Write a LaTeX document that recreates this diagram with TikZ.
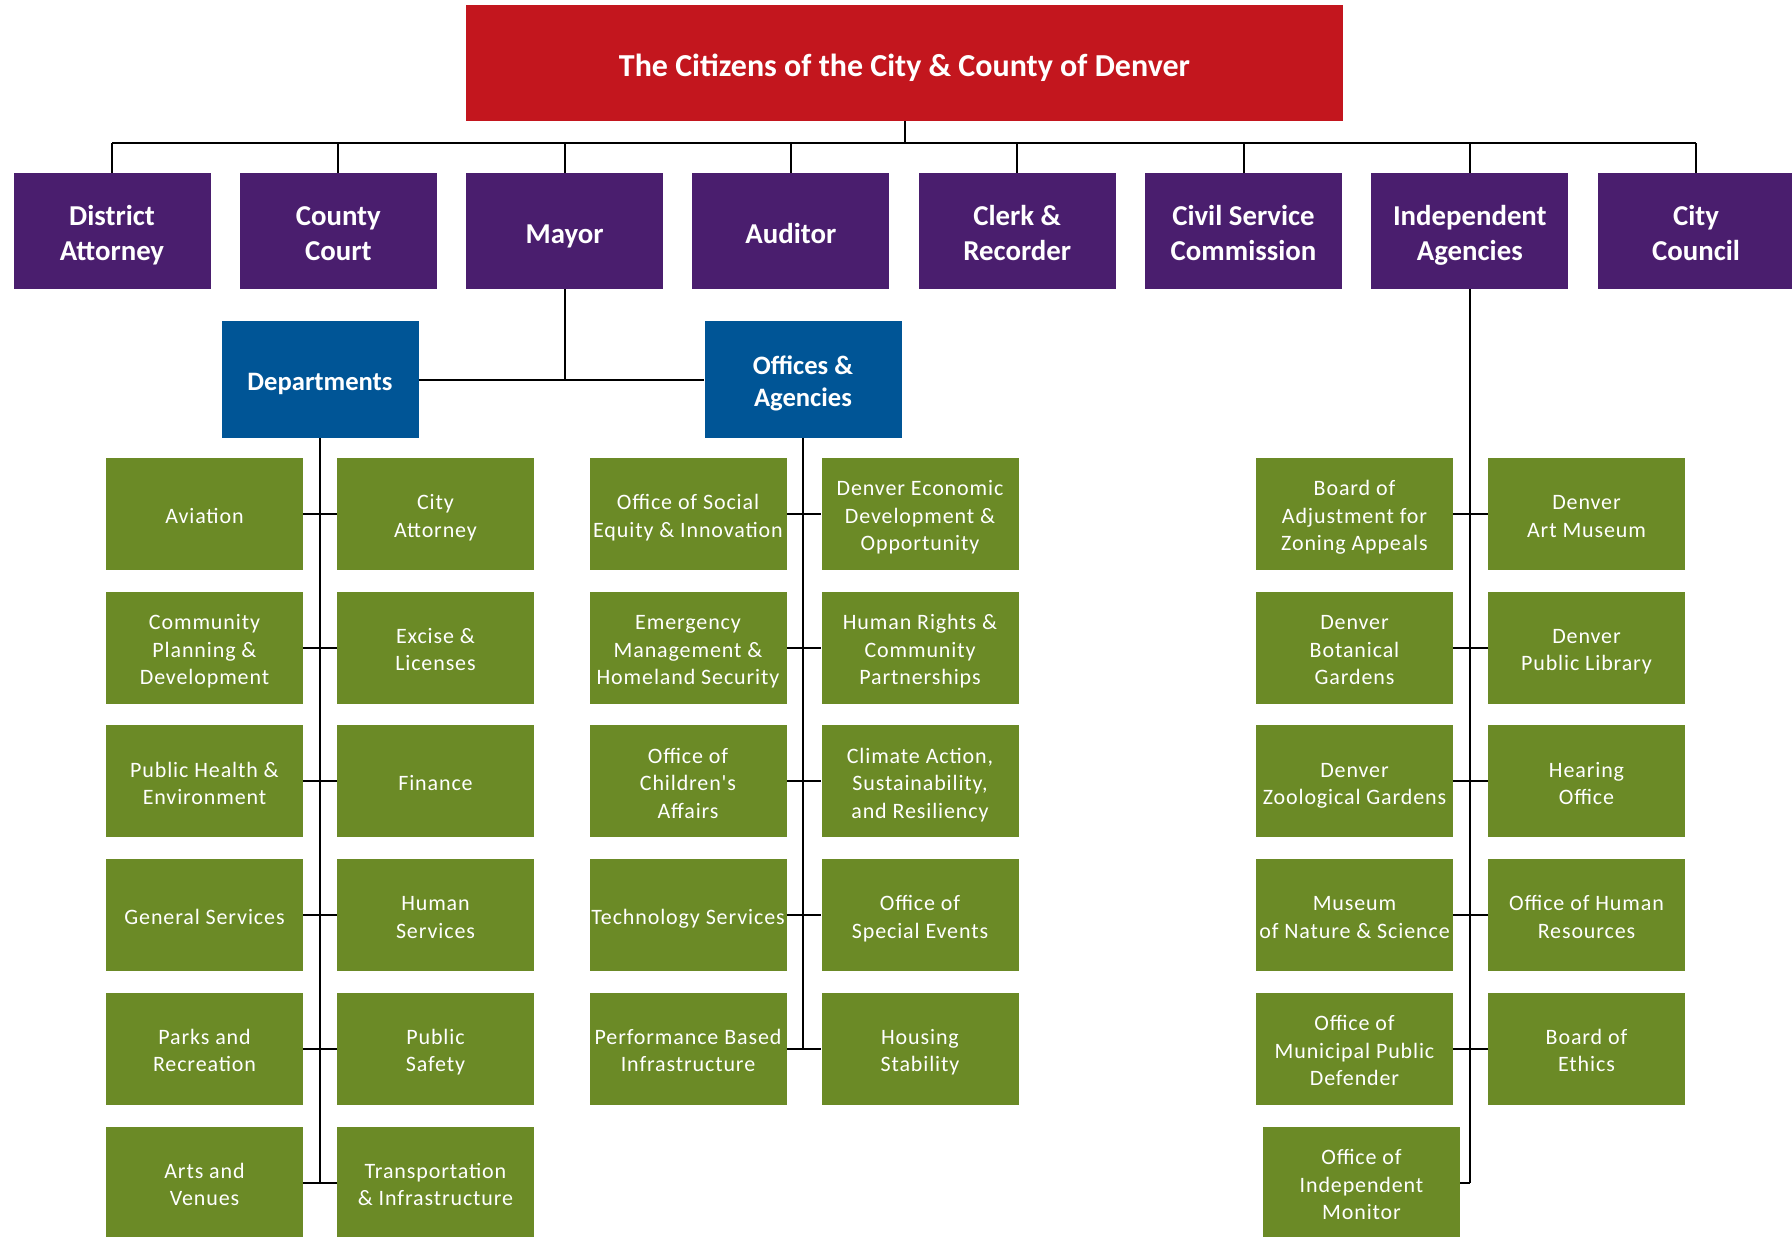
\documentclass[tikz,border=0pt]{standalone}
\usepackage{fontspec}
\setmainfont{Carlito}
\newfontfamily\trackedfont[LetterSpace=4]{Carlito}

\definecolor{citizenred}{RGB}{195,22,30}
\definecolor{electpurple}{RGB}{74,30,110}
\definecolor{denverblue}{RGB}{0,85,150}
\definecolor{agencygreen}{RGB}{107,138,38}

\begin{document}
\begin{tikzpicture}[x=0.5pt,y=-0.5pt,
   box/.style={inner sep=0pt,align=flush center,text=white,text width=98.5pt,
      minimum width=98.5pt,
      execute at begin node={\rule{0pt}{1.1em}},
      execute at end node={\rule[-0.25em]{0pt}{0pt}}},
   citizens/.style={box,fill=citizenred,text width=438.5pt,minimum width=438.5pt,
      minimum height=58pt,font=\bfseries\fontsize{16}{19}\selectfont},
   official/.style={box,fill=electpurple,minimum height=58pt,
      font=\bfseries\fontsize{14.4}{17.7}\selectfont},
   branch/.style={box,fill=denverblue,minimum height=58.5pt,
      font=\bfseries\fontsize{13.3}{16}\selectfont},
   agency/.style={box,fill=agencygreen,minimum height=56pt,
      font=\trackedfont\fontsize{11}{13.7}\selectfont},
   link/.style={line width=1pt}]
\clip (0,0) rectangle (1792,1236);

% citizens and the elected offices
\node[citizens] (citizens) at (904.5,63) {The Citizens of the City \& County of Denver};
\coordinate (bus) at (904.5,143);
\foreach \name/\txt [count=\i from 0] in {attorney/{District\\Attorney},
    court/{County\\Court}, mayor/{Mayor}, auditor/{Auditor},
    clerk/{Clerk \&\\Recorder}, civil/{Civil Service\\Commission},
    independent/{Independent\\Agencies}, council/{City\\Council}}
  \node[official] (\name) at (112+226.3*\i,231) {\txt};
\draw[link] (citizens.south) -- (bus);
\draw[link] (attorney.north |- bus) -- (council.north |- bus);
\foreach \name in {attorney,court,mayor,auditor,clerk,civil,independent,council}
  \draw[link] (\name.north |- bus) -- (\name.north);

% under the mayor
\node[branch] (departments) at (320,379.5) {Departments};
\node[branch] (offices) at (803,379.5) {Offices \&\\Agencies};
\draw[link] (mayor.south) -- (mayor.south |- departments.east);
\draw[link] (departments.east) -- (offices.west);

\foreach \lname/\rname [count=\r from 0] in {{Aviation}/{City\\Attorney},
    {Community\\Planning \&\\Development}/{Excise \&\\Licenses},
    {Public Health \&\\Environment}/{Finance},
    {General Services}/{Human\\Services},
    {Parks and\\Recreation}/{Public\\Safety},
    {Arts and\\Venues}/{Transportation\\\& Infrastructure}}
{
  \node[agency] (dept-l\r) at (204.5,514+133.7*\r) {\lname};
  \node[agency] (dept-r\r) at (435.5,514+133.7*\r) {\rname};
  \draw[link] (dept-l\r.east) -- (dept-r\r.west);
}
\draw[link] (departments.south) -- (departments.south |- dept-l5.east);

\foreach \lname/\rname [count=\r from 0] in {{Office of Social\\Equity \& Innovation}/{Denver Economic\\Development \&\\Opportunity},
    {Emergency\\Management \&\\Homeland Security}/{Human Rights \&\\Community\\Partnerships},
    {Office of\\Children's\\Affairs}/{Climate Action,\\Sustainability,\\and Resiliency},
    {Technology Services}/{Office of\\Special Events},
    {Performance Based\\Infrastructure}/{Housing\\Stability}}
{
  \node[agency] (off-l\r) at (688,514+133.7*\r) {\lname};
  \node[agency] (off-r\r) at (920,514+133.7*\r) {\rname};
  \draw[link] (off-l\r.east) -- (off-r\r.west);
}
\draw[link] (offices.south) -- (offices.south |- off-l4.east);

% independent agencies
\foreach \lname/\rname [count=\r from 0] in {{Board of\\Adjustment for\\Zoning Appeals}/{Denver\\Art Museum},
    {Denver\\Botanical\\Gardens}/{Denver\\Public Library},
    {Denver\\Zoological Gardens}/{Hearing\\Office},
    {Museum\\of Nature \& Science}/{Office of Human\\Resources},
    {Office of\\Municipal Public\\Defender}/{Board of\\Ethics}}
{
  \node[agency] (ind-l\r) at (1354.5,514+133.7*\r) {\lname};
  \node[agency] (ind-r\r) at (1586.5,514+133.7*\r) {\rname};
  \draw[link] (ind-l\r.east) -- (ind-r\r.west);
}
\node[agency] (monitor) at (1361.5,1183) {Office of\\Independent\\Monitor};
\draw[link] (independent.south) -- (independent.south |- monitor.east);
\draw[link] (monitor.east) -- (independent.south |- monitor.east);
\end{tikzpicture}
\end{document}
